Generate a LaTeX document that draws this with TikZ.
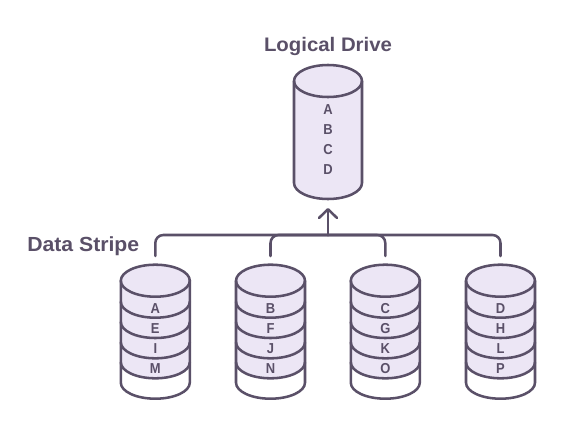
\documentclass[tikz,border=0pt]{standalone}
\usepackage{fontspec}
\setmainfont[FakeStretch=1.04]{Liberation Sans}
\newfontfamily\letterfont[FakeStretch=0.9]{Liberation Sans}
\usetikzlibrary{arrows.meta}
\definecolor{ink}{HTML}{5A5068}
\definecolor{lav}{HTML}{ECE6F5}
\tikzset{
  x=0.75pt,y=-0.75pt,
  outline/.style={draw=ink,line width=1.9pt,line join=round,line cap=round},
  bus/.style={draw=ink,line width=1.9pt,rounded corners=6pt,line cap=round},
  title/.style={text=ink,font=\bfseries\fontsize{14.7pt}{16pt}\selectfont,inner sep=0pt,anchor=center},
  letter/.style={text=ink,font=\letterfont\bfseries\fontsize{10.8pt}{12pt}\selectfont,inner sep=0pt,anchor=center}
}
\newcommand{\smalldrive}[7]{%
  \begin{scope}[shift={(#1,0)}]
    \fill[lav] (-34.5,280.7) -- (-34.5,362.3) arc[start angle=180,end angle=360,x radius=34.5,y radius=-16] -- (34.5,280.7) arc[start angle=0,end angle=180,x radius=34.5,y radius=-16] -- cycle;
    \draw[outline] (-34.5,280.7) -- (-34.5,382.7) arc[start angle=180,end angle=360,x radius=34.5,y radius=-16] -- (34.5,280.7);
    \draw[outline] (0,280.7) ellipse[x radius=34.5,y radius=16];
    \foreach \yy in {301.7,322,342.3,362.3}
      \draw[outline] (-34.5,\yy) arc[start angle=180,end angle=360,x radius=34.5,y radius=-16];
    \node[letter] (#2a) at (0,308.5) {#3};
    \node[letter] (#2b) at (0,328.5) {#4};
    \node[letter] (#2c) at (0,349) {#5};
    \node[letter] (#2d) at (0,368.5) {#6};
    \coordinate (#2) at (0,#7);
  \end{scope}}
\begin{document}
\begin{tikzpicture}
\useasboundingbox (0,0) rectangle (581,429);
% logical drive
\fill[lav] (294,81) -- (294,183) arc[start angle=180,end angle=360,x radius=34,y radius=-16] -- (362,81) arc[start angle=0,end angle=180,x radius=34,y radius=-16] -- cycle;
\draw[outline] (294,81) -- (294,183) arc[start angle=180,end angle=360,x radius=34,y radius=-16] -- (362,81);
\draw[outline] (328,81) ellipse[x radius=34,y radius=16];
\node[title] (ldtitle) at (328,46.5) {Logical Drive};
\node[letter] (la) at (328,109.5) {A};
\node[letter] (lb) at (328,129.5) {B};
\node[letter] (lc) at (328,149.5) {C};
\node[letter] (ld) at (328,169.5) {D};
\node[title,anchor=west,font=\bfseries\fontsize{15.3pt}{16pt}\selectfont] (dstitle) at (27,246) {Data Stripe};
% member drives
\smalldrive{155.3}{da}{A}{E}{I}{M}{256}
\smalldrive{270.5}{db}{B}{F}{J}{N}{256}
\smalldrive{385.3}{dc}{C}{G}{K}{O}{256}
\smalldrive{500.5}{dd}{D}{H}{L}{P}{256}
% connectors
\coordinate (busjoin) at (328,235);
\coordinate (arrowtip) at (328,208);
\draw[bus] (da) |- (busjoin);
\draw[bus] (db) |- (busjoin);
\draw[bus] (dd) |- (busjoin);
\draw[bus] (dc) |- (busjoin);
\draw[outline,-{Straight Barb[length=6.5pt,width=13.5pt,line width=1.9pt,round]}] (busjoin) -- (arrowtip);
\end{tikzpicture}
\end{document}
